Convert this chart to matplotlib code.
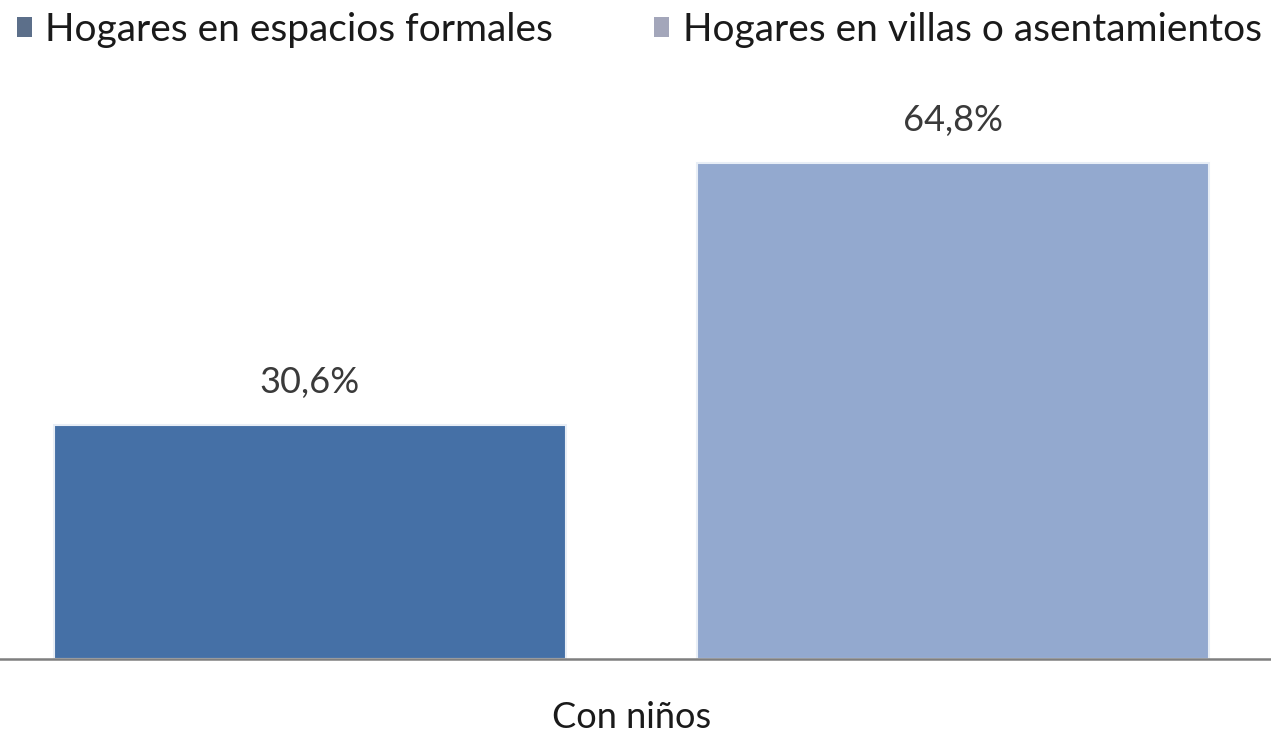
import matplotlib
matplotlib.use("Agg")
import matplotlib.pyplot as plt
from matplotlib.patches import Patch

categories = ["Con niños"]
series_names = ["Hogares en espacios formales", "Hogares en villas o asentamientos"]
values_formales = [30.6]
values_villas = [64.8]
value_labels_formales = ["30,6%"]
value_labels_villas = ["64,8%"]

bar_colors = ["#4570A6", "#93A9CF"]
legend_colors = ["#5C6F8A", "#A3A6BA"]

plt.rcParams['font.family'] = ['Lato', 'DejaVu Sans']

fig = plt.figure(figsize=(12.71, 7.38), dpi=100)
ax = fig.add_axes([0, 79/738, 1, 560/738])

x = list(range(len(categories)))
w = 0.403
off = 0.2528
b1 = ax.bar([xi - off for xi in x], values_formales, width=w, color=bar_colors[0],
            edgecolor="#E8EEF6", linewidth=1.5)
b2 = ax.bar([xi + off for xi in x], values_villas, width=w, color=bar_colors[1],
            edgecolor="#E8EEF6", linewidth=1.5)

for bars, labs in ((b1, value_labels_formales), (b2, value_labels_villas)):
    for rect, lab in zip(bars, labs):
        ax.annotate(lab, (rect.get_x() + rect.get_width()/2, rect.get_height()),
                    xytext=(0, 19), textcoords="offset points", ha="center", va="bottom",
                    fontsize=26, color="#3A3A3A")

ax.set_xlim(-0.4967, 0.5033)
ax.set_ylim(0, 73.2)
ax.set_xticks(x)
ax.set_xticklabels(categories, fontsize=26, color="#1A1A1A")
ax.tick_params(axis="x", length=0, pad=30)
ax.set_yticks([])
for s in ["top", "left", "right"]:
    ax.spines[s].set_visible(False)
ax.spines["bottom"].set_color("#7F7F7F")
ax.spines["bottom"].set_linewidth(1.8)

handles = [Patch(facecolor=legend_colors[0]), Patch(facecolor=legend_colors[1])]
fig.legend(handles, series_names, loc="upper left", bbox_to_anchor=(0.001, 1.005),
           ncol=2, frameon=False, fontsize=28, handlelength=0.38, handleheight=0.38,
           handletextpad=0.35, columnspacing=2.6, borderaxespad=0.0,
           labelcolor="#1A1A1A")

fig.savefig("out.png", dpi=100)
